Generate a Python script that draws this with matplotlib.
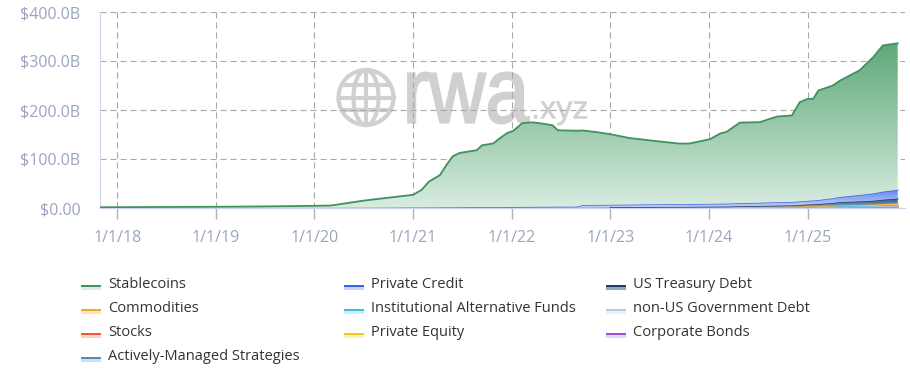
# RWA on-chain value chart

# Third-Party Modules
import matplotlib
matplotlib.use('Agg')
import matplotlib.pyplot as plt
import matplotlib.dates as mdates
from matplotlib.colors import LinearSegmentedColormap
from matplotlib.font_manager import FontProperties
from matplotlib.patches import Circle, Ellipse, PathPatch, Rectangle
from matplotlib.textpath import TextPath
from matplotlib.transforms import Affine2D
import numpy as np
import pandas as pd

# Data (values in $B)
dates = [
    '2017-11-01', '2018-06-01', '2019-01-01', '2019-06-01', '2019-11-01', '2020-03-01',
    '2020-07-01', '2020-09-15', '2021-01-01', '2021-02-01', '2021-03-01', '2021-04-10',
    '2021-05-05', '2021-05-27', '2021-06-22', '2021-08-25', '2021-09-13', '2021-10-24',
    '2021-11-19', '2021-12-15', '2022-01-06', '2022-02-09', '2022-03-19', '2022-04-15',
    '2022-05-10', '2022-06-02', '2022-06-21', '2022-09-01', '2022-09-22', '2022-11-13',
    '2023-01-01', '2023-03-13', '2023-06-22', '2023-09-16', '2023-10-22', '2024-01-06',
    '2024-02-13', '2024-03-07', '2024-04-25', '2024-07-08', '2024-09-10', '2024-11-04',
    '2024-12-03', '2025-01-01', '2025-01-22', '2025-02-10', '2025-04-04', '2025-05-01',
    '2025-07-13', '2025-09-01', '2025-10-07', '2025-12-01',
]
stablecoins = [
    1.5, 2.0, 2.4, 2.9, 3.7, 4.6, 14.5, 19.4,
    26, 36, 53, 66, 87, 104, 111, 116.5, 126.5, 130, 141, 151,
    155, 171, 172.5, 170.5, 168.5, 166, 156, 155,
    152, 148.5, 144, 136, 129, 123.5, 123.5, 132, 143.5, 146.5, 164.5, 164.5,
    175, 176.5, 202.5, 208, 207.5, 223.5, 230, 237.5, 254.5, 278, 298.5, 299,
]
private_credit = [
    0, 0, 0.1, 0.1, 0.2, 0.2, 0.3, 0.3,
    0.5, 0.5, 0.6, 0.6, 0.7, 0.7, 0.8, 0.9, 0.9, 1.0, 1.0, 1.1,
    1.2, 1.3, 1.4, 1.5, 1.5, 1.6, 1.6, 1.7,
    4.5, 4.6, 4.8, 5.0, 5.3, 5.5, 5.6, 5.8, 5.9, 6.0, 6.2, 6.5,
    6.8, 7.0, 7.2, 7.5, 7.8, 8.2, 9.5, 10.5, 13.0, 15.0, 16.5, 18.0,
]
us_treasury = [0.0] * 30 + [
    0.1, 0.2, 0.5, 0.7, 0.8, 0.9, 1.0, 1.1, 1.5, 1.9, 2.2,
    2.5, 2.8, 3.5, 3.8, 4.0, 5.5, 6.5, 7.3, 7.5, 8.5, 9.5,
]
commodities = [
    0, 0, 0.02, 0.05, 0.1, 0.15, 0.2, 0.3,
    0.4, 0.4, 0.4, 0.45, 0.5, 0.5, 0.5, 0.6, 0.6, 0.6, 0.7, 0.8,
    0.9, 0.9, 0.9, 1.0, 1.0, 1.0, 1.0, 1.0,
    1.0, 1.0, 1.0, 1.0, 1.0, 1.0, 1.0, 1.1, 1.1, 1.1, 1.2, 1.2,
    1.3, 1.3, 1.3, 1.4, 1.4, 1.5, 1.6, 1.8, 2.0, 2.4, 3.0, 3.5,
]
inst_alt_funds = [0.0] * 38 + [
    0.1, 0.3, 0.4, 0.5, 0.6, 0.7, 0.7, 0.8, 1.0, 1.2, 1.4, 1.6, 1.8, 2.0,
]
non_us_gov_debt = [0.0] * 40 + [
    0.05, 0.1, 0.1, 0.15, 0.15, 0.2, 0.25, 0.3, 0.35, 0.4, 0.45, 0.5,
]
stocks = [0.0] * 28 + [
    0.05, 0.05, 0.05, 0.05, 0.05, 0.05, 0.05, 0.1, 0.1, 0.1, 0.1, 0.1,
    0.15, 0.15, 0.2, 0.2, 0.25, 0.3, 0.35, 0.4, 0.5, 0.6, 0.7, 0.8,
]
private_equity = [0.0] * 40 + [
    0.05, 0.05, 0.1, 0.1, 0.1, 0.1, 0.15, 0.15, 0.2, 0.2, 0.25, 0.3,
]
corporate_bonds = [0.0] * 28 + [
    0.6, 0.6, 0.6, 0.6, 0.6, 0.6, 0.6, 0.6, 0.6, 0.6, 0.7, 0.7,
    0.7, 0.7, 0.8, 0.8, 0.8, 0.8, 0.9, 1.0, 1.1, 1.2, 1.3, 1.5,
]
actively_managed = [0.0] * 42 + [
    0.2, 0.3, 0.3, 0.4, 0.5, 0.6, 0.7, 0.8, 0.9, 1.0,
]

y_ticks = [0, 100, 200, 300, 400]
y_tick_labels = ['$0.00', '$100.0B', '$200.0B', '$300.0B', '$400.0B']
x_tick_dates = ['2018-01-01', '2019-01-01', '2020-01-01', '2021-01-01',
                '2022-01-01', '2023-01-01', '2024-01-01', '2025-01-01']
x_tick_labels = ['1/1/18', '1/1/19', '1/1/20', '1/1/21',
                 '1/1/22', '1/1/23', '1/1/24', '1/1/25']

series = {
    'Stablecoins': stablecoins,
    'Private Credit': private_credit,
    'US Treasury Debt': us_treasury,
    'Commodities': commodities,
    'Institutional Alternative Funds': inst_alt_funds,
    'non-US Government Debt': non_us_gov_debt,
    'Stocks': stocks,
    'Private Equity': private_equity,
    'Corporate Bonds': corporate_bonds,
    'Actively-Managed Strategies': actively_managed,
}

# line colour, gradient top, gradient bottom
styles = {
    'Stablecoins': ('#3f9160', '#5ea878', '#d8ece0'),
    'Private Credit': ('#3d63e8', '#5f84f0', '#c5d3f8'),
    'US Treasury Debt': ('#1f3f6b', '#2f5587', '#8fa5c5'),
    'Commodities': ('#f0a830', '#f3bb55', '#fae3b5'),
    'Institutional Alternative Funds': ('#3cbde8', '#6fd0f0', '#c8eefa'),
    'non-US Government Debt': ('#b8c6da', '#cfd9e6', '#eef2f7'),
    'Stocks': ('#f05a3c', '#f47c60', '#fbd0c5'),
    'Private Equity': ('#f2c81e', '#f6d84e', '#fcf0b8'),
    'Corporate Bonds': ('#9a4de0', '#b07ae8', '#e5d3f8'),
    'Actively-Managed Strategies': ('#5a86bd', '#7da0cc', '#d0def0'),
}

legend_rows = [
    ['Stablecoins', 'Private Credit', 'US Treasury Debt'],
    ['Commodities', 'Institutional Alternative Funds', 'non-US Government Debt'],
    ['Stocks', 'Private Equity', 'Corporate Bonds'],
    ['Actively-Managed Strategies'],
]

plt.rcParams['font.family'] = ['Open Sans', 'DejaVu Sans']


def gradient_area(ax, x, lower, upper, top_color, bottom_color, zorder):
    """
    Fill between two curves with a vertical gradient
    """
    poly = ax.fill_between(x, lower, upper, facecolor='none', edgecolor='none',
                           zorder=zorder)
    cmap = LinearSegmentedColormap.from_list('grad', [bottom_color, top_color])
    grad = np.linspace(0, 1, 256).reshape(-1, 1)
    img = ax.imshow(grad, cmap=cmap, aspect='auto', origin='lower',
                    extent=[x.min(), x.max(), 0, upper.max()], zorder=zorder,
                    interpolation='bilinear')
    img.set_clip_path(poly.get_paths()[0], transform=ax.transData)


def fitted_word(wm, word, left, baseline, width, x_height, color, stroke):
    """
    Place a word as a path scaled to a given width and x-height (pixels)
    """
    prop = FontProperties(family='Liberation Sans')
    path = TextPath((0, 0), word, size=1, prop=prop)
    ext = path.get_extents()
    ref = TextPath((0, 0), 'x', size=1, prop=prop).get_extents()
    sx = width / ext.width
    sy = x_height / ref.height
    trans = (Affine2D().translate(-ext.x0, 0).scale(sx, -sy)
             .translate(left, baseline))
    wm.add_patch(PathPatch(trans.transform_path(path), fc=color, ec=color,
                           lw=stroke))


def draw_watermark(wm):
    """
    Faint rwa.xyz logo behind the plot
    """
    grey = '#d0d0d0'
    cx, cy, r = 366, 97.5, 27.5
    wm.add_patch(Circle((cx, cy), r, fill=False, lw=3, ec=grey))
    wm.add_patch(Ellipse((cx, cy), 25, 2 * r, fill=False, lw=3, ec=grey))
    wm.plot([cx, cx], [cy - r, cy + r], color=grey, lw=3)
    for dy in (-12.5, 0, 12.5):
        half = np.sqrt(r ** 2 - dy ** 2)
        wm.plot([cx - half, cx + half], [cy + dy, cy + dy], color=grey, lw=3)
    fitted_word(wm, 'rwa', 408, 122.5, 121, 49, grey, 1.6)
    fitted_word(wm, '.xyz', 534, 118.5, 53, 17, grey, 0.4)


fig = plt.figure(figsize=(9.1, 3.81), dpi=100)

# Pixel-space layer for watermark and legend
wm = fig.add_axes([0, 0, 1, 1], zorder=0)
wm.set_xlim(0, 910)
wm.set_ylim(381, 0)
wm.axis('off')
draw_watermark(wm)

ax = fig.add_axes([100 / 910, 1 - 208 / 381, 805 / 910, 196 / 381], zorder=1)
ax.set_facecolor('none')

x = mdates.date2num(pd.to_datetime(dates))
base = np.zeros(len(x))
z = 2
for name in reversed(list(series.keys())):
    vals = np.array(series[name], dtype=float)
    top = base + vals
    line_c, top_c, bot_c = styles[name]
    gradient_area(ax, x, base, top, top_c, bot_c, z)
    line_y = np.where(vals > 0, top, np.nan)
    ax.plot(x, line_y, color=line_c, lw=1.3 if name == 'Stablecoins' else 1.0,
            zorder=z + 0.5)
    base = top
    z += 1

ax.set_ylim(0, 400)
ax.set_xlim(mdates.date2num(pd.Timestamp('2017-10-29')),
            mdates.date2num(pd.Timestamp('2025-12-28')))

ax.set_yticks(y_ticks)
ax.set_yticklabels(y_tick_labels)
ax.set_xticks(mdates.date2num(pd.to_datetime(x_tick_dates)))
ax.set_xticklabels(x_tick_labels)
ax.tick_params(axis='y', length=0, pad=14, labelsize=11.5, labelcolor='#9aa5bd')
ax.tick_params(axis='x', length=8, width=1, color='#b3b3b3', pad=8,
               labelsize=11.5, labelcolor='#9aa5bd')

ax.grid(True, linestyle=(0, (5.5, 3.5)), color='#a8a8a8', linewidth=0.8, zorder=1)
ax.set_axisbelow(True)
for side in ('top', 'right'):
    ax.spines[side].set_visible(False)
ax.spines['left'].set_color('#ccd6eb')
ax.spines['bottom'].set_color('#ccd6eb')

# Legend
col_x = [81, 344, 606]
row_y = [284, 308, 332, 356]
for r, row in enumerate(legend_rows):
    for c, name in enumerate(row):
        line_c, top_c, bot_c = styles[name]
        sx, sy = col_x[c], row_y[r]
        wm.add_patch(Rectangle((sx, sy + 1), 20, 2, color=line_c, lw=0))
        wm.add_patch(Rectangle((sx, sy + 3), 20, 3, color=bot_c, lw=0))
        wm.text(sx + 27, sy, name, va='center', fontsize=10.5, color='#333333')

fig.savefig('out.png', dpi=100)
